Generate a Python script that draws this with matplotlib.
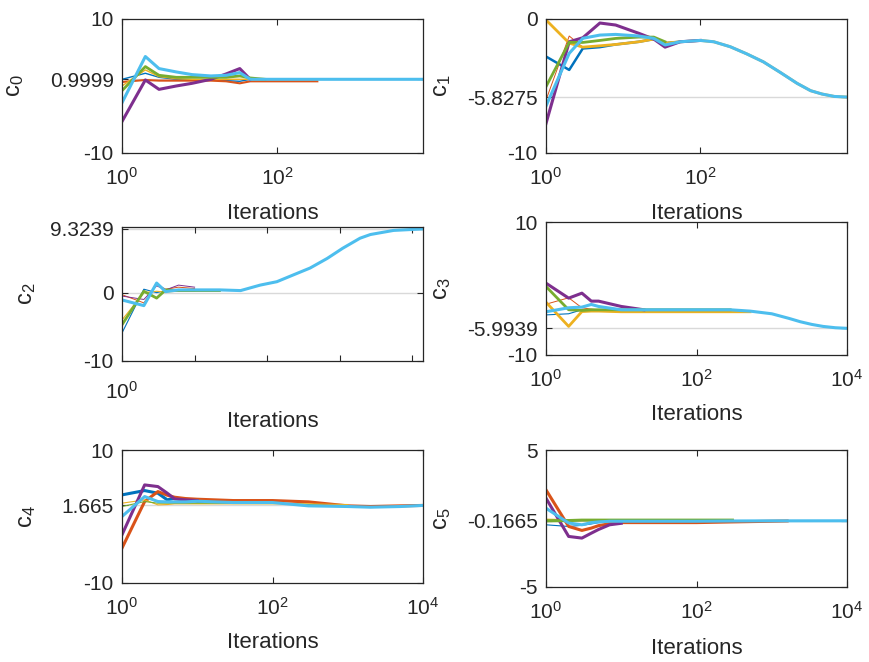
import numpy as np
import matplotlib
matplotlib.use("Agg")
import matplotlib.pyplot as plt
from matplotlib.ticker import NullLocator, FixedLocator

plt.rcParams['font.family'] = ['Liberation Sans', 'DejaVu Sans']
plt.rcParams['mathtext.fontset'] = 'custom'
plt.rcParams['mathtext.rm'] = 'Liberation Sans'
plt.rcParams['mathtext.it'] = 'Liberation Sans:italic'

nan = np.nan

# MATLAB default line colours, in plot order
blue, orange, yellow, purple, green, cyan = (
    '#0072BD', '#D95319', '#EDB120', '#7E2F8E', '#77AC30', '#4DBEEE')

# ---- c0 ----
c0_x = [1, 2, 3, 5, 8, 14, 22, 33, 45, 70, 330, 710, 7600]
c0_blue = [1.0, 1.9, 1.3, 1.0, 0.9, 0.9, 0.8, 0.7, 1.0, nan, nan, nan, nan]
c0_orange = [0.6, 0.9, 0.8, 0.8, 0.8, 0.8, 0.7, 0.4, 0.7, 0.7, 0.7, nan, nan]
c0_yellow = [0.0, 2.4, 1.4, 1.1, 1.0, 1.0, 1.0, 1.0, 1.0, 1.0, 1.0, 1.0, nan]
c0_purple = [-5.3, 0.9, -0.5, 0.0, 0.4, 1.0, 1.8, 2.6, 1.0, nan, nan, nan, nan]
c0_green = [-0.7, 2.9, 1.6, 1.3, 1.3, 1.3, 1.3, 1.5, 1.2, 1.0, nan, nan, nan]
c0_cyan = [-2.5, 4.4, 2.6, 2.1, 1.7, 1.5, 1.6, 2.0, 1.0, 1.0, 1.0, 1.0, 1.0]
c0_target = 0.9999

# ---- c1 ----
c1_x = [1, 2, 3, 5, 8, 16, 25, 35, 55, 100, 150, 245, 400, 660, 1100, 1800,
        2700, 3800, 5500, 8000]
c1_blue = [-2.8, -3.8, -2.2, -2.1, -1.9, -1.7, -1.5, -1.8, -1.7,
           nan, nan, nan, nan, nan, nan, nan, nan, nan, nan, nan]
c1_orange = [-6.05, -1.27, -2.1, -2.0, -1.9, -1.7, -1.5,
             nan, nan, nan, nan, nan, nan, nan, nan, nan, nan, nan, nan, nan]
c1_yellow = [-0.07, -1.8, -2.1, -2.0, -1.9, -1.7, -1.5, -1.8, -1.7, -1.6, -1.7,
             -2.07, -2.6, -3.2, -4.0, -4.8, -5.35, -5.6, -5.78, -5.8275]
c1_purple = [-7.8, -1.7, -1.4, -0.3, -0.45, -1.07, -1.5, -2.1, -1.7, -1.6,
             nan, nan, nan, nan, nan, nan, nan, nan, nan, nan]
c1_green = [-5.05, -1.74, -1.75, -1.6, -1.45, -1.35, -1.35, -1.7,
            nan, nan, nan, nan, nan, nan, nan, nan, nan, nan, nan, nan]
c1_cyan = [-6.5, -2.56, -1.44, -1.2, -1.15, -1.27, -1.45, -1.94, -1.7, -1.6, -1.7,
           -2.07, -2.6, -3.2, -4.0, -4.8, -5.35, -5.6, -5.78, -5.8275]
c1_target = -5.8275

# ---- c2 ----
c2_x = [1, 2, 3, 4, 6, 10, 22, 43, 80, 136, 230, 390, 670, 1100, 1900, 2640,
        5500, 14000]
c2_blue = [-5.9, 0.5, 0.0, 0.3, 0.3, 0.3,
           nan, nan, nan, nan, nan, nan, nan, nan, nan, nan, nan, nan]
c2_orange = [-0.3, -1.5, 1.2, 0.5, 0.8, 0.6,
             nan, nan, nan, nan, nan, nan, nan, nan, nan, nan, nan, nan]
c2_yellow = [-4.0, 0.0, 0.2, 0.1, 0.2, 0.2,
             nan, nan, nan, nan, nan, nan, nan, nan, nan, nan, nan, nan]
c2_purple = [-0.5, -1.0, 1.0, 0.4, 1.1, 0.8,
             nan, nan, nan, nan, nan, nan, nan, nan, nan, nan, nan, nan]
c2_green = [-4.7, 0.2, -0.8, 0.4, 0.3, 0.3, 0.3,
            nan, nan, nan, nan, nan, nan, nan, nan, nan, nan, nan]
c2_cyan = [-1.07, -1.9, 1.4, 0.15, 0.4, 0.4, 0.4, 0.3, 1.1, 1.6, 2.6, 3.6, 5.0,
           6.5, 7.96, 8.5, 9.1, 9.32]
c2_target = 9.3239

# ---- c3 ----
c3_x = [1, 2, 3, 4, 5, 10, 20, 50, 100, 280, 515, 1000, 1700, 2400, 3400, 4800,
        7000, 10000]
c3_blue = [-3.97, -3.8, -3.2, -3.2, -3.2,
           nan, nan, nan, nan, nan, nan, nan, nan, nan, nan, nan, nan, nan]
c3_orange = [-2.36, -1.4, -2.9, -3.1, -3.2,
             nan, nan, nan, nan, nan, nan, nan, nan, nan, nan, nan, nan, nan]
c3_yellow = [-2.06, -5.7, -3.47, -3.4, -3.4, -3.5, -3.5, -3.5, -3.5, -3.5, -3.5,
             nan, nan, nan, nan, nan, nan, nan]
c3_purple = [0.8, -1.45, -0.7, -1.9, -1.9, -2.7, -3.2,
             nan, nan, nan, nan, nan, nan, nan, nan, nan, nan, nan]
c3_green = [0.3, -3.2, -3.3, -3.2, -3.2, -3.2, -3.2, -3.2, -3.2, -3.2,
            nan, nan, nan, nan, nan, nan, nan, nan]
c3_cyan = [-3.5, -2.9, -2.8, -2.4, -2.7, -3.2, -3.2, -3.2, -3.2, -3.2, -3.4, -3.8,
           -4.5, -5.0, -5.4, -5.7, -5.9, -5.99]
c3_target = -5.9939

# ---- c4 ----
c4_x = [1, 2, 3, 4, 5, 7, 10, 30, 100, 300, 1000, 2000, 5000, 10000]
c4_blue = [3.25, 3.9, 3.5, 2.5, 2.75, 2.5, 2.3, 2.2, nan, nan, nan, nan, nan, nan]
c4_orange = [-4.75, 2.25, 3.75, 3.2, 2.9, 2.7, 2.6, 2.4, 2.4, 2.2, 1.6, 1.5, 1.6, 1.665]
c4_yellow = [2.0, 2.5, 1.75, 1.8, 1.9, 1.9, 1.9, 1.9, 1.9, 1.9, 1.8, nan, nan, nan]
c4_purple = [-2.75, 4.75, 4.5, 3.5, 2.65, 2.5, 2.4, nan, nan, nan, nan, nan, nan, nan]
c4_green = [1.5, 2.25, 2.0, 2.0, 2.0, 2.0, 2.0, 2.0, 2.0, 1.8, 1.5, nan, nan, nan]
c4_cyan = [0.0, 3.0, 2.25, 2.2, 2.2, 2.2, 2.3, 2.1, 2.1, 1.6, 1.5, 1.4, 1.5, 1.665]
c4_target = 1.665

# ---- c5 ----
c5_x = [1, 2, 3, 4, 5, 7, 10, 30, 100, 300, 1000, 1600, 10000]
c5_blue = [-0.46, -0.58, -0.5, -0.4, -0.3, -0.25, -0.25, -0.25, nan, nan, nan, nan, nan]
c5_orange = [2.09, -0.58, -0.87, -0.7, -0.52, -0.38, -0.3, -0.3, -0.3, -0.25, -0.2, -0.18, nan]
c5_yellow = [-0.07, -0.1, -0.1, -0.1, -0.1, -0.1, -0.1, -0.1, -0.1, -0.1, nan, nan, nan]
c5_purple = [1.48, -1.31, -1.43, -1.07, -0.8, -0.46, -0.35, nan, nan, nan, nan, nan, nan]
c5_green = [-0.17, -0.15, -0.12, -0.12, -0.12, -0.12, -0.12, -0.12, -0.12, -0.12, nan, nan, nan]
c5_cyan = [0.75, -0.33, -0.46, -0.3, -0.25, -0.2, -0.2, -0.2, -0.2, -0.18, -0.17, -0.17, -0.1665]
c5_target = -0.1665

W, H = 869, 662
fig = plt.figure(figsize=(W / 100, H / 100), dpi=100)


def make_axes(left, right, top, bottom):
    return fig.add_axes([left / W, 1 - bottom / H, (right - left) / W, (bottom - top) / H])


def draw(ax, x, series, widths, target, ylim, yticks, yticklabels, xmax, name, ylabx):
    ax.axhline(target, color='#d9d9d9', lw=1, zorder=0)
    for (col, y), lw in zip(series, widths):
        ax.plot(x, y, color=col, lw=lw)
    ax.set_xscale('log')
    ax.set_xlim(1, xmax)
    ax.set_ylim(*ylim)
    ax.set_yticks(yticks)
    ax.set_yticklabels(yticklabels)
    ax.tick_params(direction='in', top=True, right=True, length=4, width=0.8,
                   labelsize=15, colors='#262626')
    ax.tick_params(axis='x', pad=10)
    ax.tick_params(axis='y', pad=6)
    ax.tick_params(which='minor', direction='in', top=True, length=2, width=0.6)
    for sp in ax.spines.values():
        sp.set_color('#262626')
        sp.set_linewidth(0.9)
    ax.set_xlabel('Iterations', fontsize=16, color='#262626')
    ax.xaxis.set_label_coords(0.5, -0.37)
    ax.xaxis.label.set_va('top')
    ax.set_ylabel('c$_{\\mathregular{' + name + '}}$', fontsize=17, color='#262626')
    ax.yaxis.set_label_coords(ylabx, 0.5)


ax0 = make_axes(122, 423, 19, 153)
draw(ax0, c0_x, [(blue, c0_blue), (orange, c0_orange), (yellow, c0_yellow),
                 (purple, c0_purple), (green, c0_green), (cyan, c0_cyan)],
     [1.0, 1.5, 1.0, 2.2, 2.0, 2.2], c0_target, (-10, 10), [-10, c0_target, 10],
     ['-10', '0.9999', '10'], 7600, '0', -0.32)
ax0.xaxis.set_major_locator(FixedLocator([1, 100]))
ax0.xaxis.set_minor_locator(NullLocator())

ax1 = make_axes(546, 847, 19, 153)
draw(ax1, c1_x, [(blue, c1_blue), (orange, c1_orange), (yellow, c1_yellow),
                 (purple, c1_purple), (green, c1_green), (cyan, c1_cyan)],
     [1.8, 0.7, 2.0, 2.2, 2.0, 2.2], c1_target, (-10, 0), [-10, c1_target, 0],
     ['-10', '-5.8275', '0'], 8000, '1', -0.31)
ax1.xaxis.set_major_locator(FixedLocator([1, 100]))
ax1.xaxis.set_minor_locator(NullLocator())

ax2 = make_axes(122, 423, 227, 361)
ax2.axhline(0, color='#d9d9d9', lw=1, zorder=0)
draw(ax2, c2_x, [(blue, c2_blue), (orange, c2_orange), (yellow, c2_yellow),
                 (purple, c2_purple), (green, c2_green), (cyan, c2_cyan)],
     [0.8, 0.7, 0.8, 0.7, 2.0, 2.2], c2_target, (-10, 9.6), [-10, 0, c2_target],
     ['-10', '0', '9.3239'], 14000, '2', -0.28)
ax2.xaxis.set_major_locator(FixedLocator([1, 10, 100, 1000, 10000]))
ax2.set_xticklabels(['$\\mathregular{10^{0}}$', '', '', '', ''])
ax2.xaxis.set_minor_locator(NullLocator())
ax2.tick_params(axis='x', pad=14)

ax3 = make_axes(546, 847, 222, 355)
draw(ax3, c3_x, [(blue, c3_blue), (orange, c3_orange), (yellow, c3_yellow),
                 (purple, c3_purple), (green, c3_green), (cyan, c3_cyan)],
     [0.8, 0.7, 2.0, 2.2, 2.0, 2.2], c3_target, (-10, 10), [-10, c3_target, 10],
     ['-10', '-5.9939', '10'], 10000, '3', -0.31)
ax3.xaxis.set_major_locator(FixedLocator([1, 100, 10000]))

ax4 = make_axes(122, 423, 450, 583)
draw(ax4, c4_x, [(blue, c4_blue), (orange, c4_orange), (yellow, c4_yellow),
                 (purple, c4_purple), (green, c4_green), (cyan, c4_cyan)],
     [2.2, 2.2, 0.8, 2.2, 0.8, 2.2], c4_target, (-10, 10), [-10, c4_target, 10],
     ['-10', '1.665', '10'], 10000, '4', -0.28)
ax4.xaxis.set_major_locator(FixedLocator([1, 100, 10000]))

ax5 = make_axes(546, 847, 450, 587)
draw(ax5, c5_x, [(blue, c5_blue), (orange, c5_orange), (yellow, c5_yellow),
                 (purple, c5_purple), (green, c5_green), (cyan, c5_cyan)],
     [0.8, 2.2, 1.2, 2.2, 2.2, 2.2], c5_target, (-5, 5), [-5, c5_target, 5],
     ['-5', '-0.1665', '5'], 10000, '5', -0.31)
ax5.xaxis.set_major_locator(FixedLocator([1, 100, 10000]))

fig.savefig('out.png', dpi=100)
